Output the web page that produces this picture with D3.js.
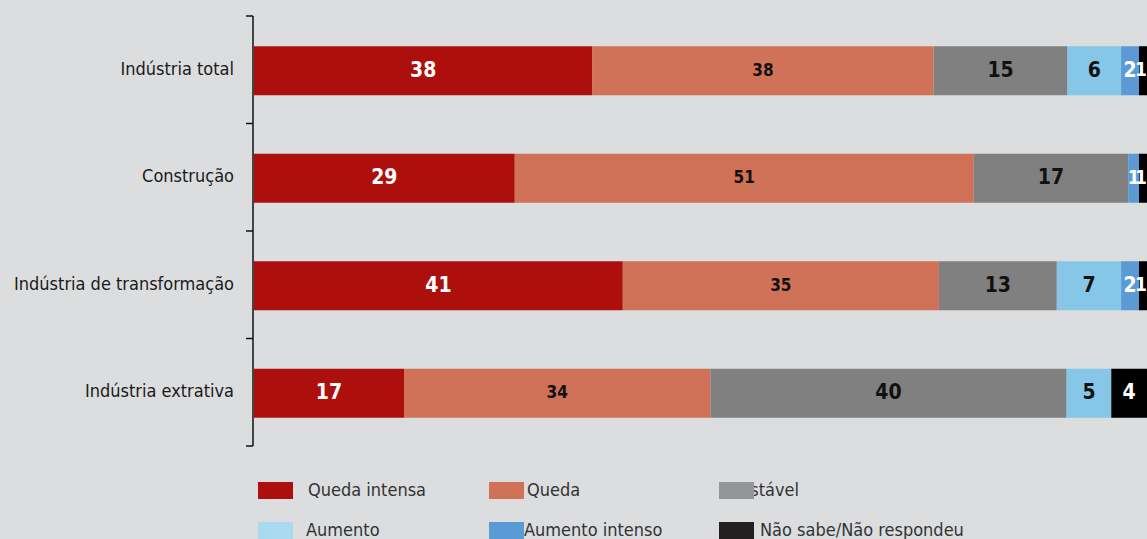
<!DOCTYPE html>
<meta charset="utf-8">
<script src="https://d3js.org/d3.v7.min.js"></script>
<style>
  body { margin: 0; background: #dcdddf; }
  svg { display: block; }
  text { font-family: "Liberation Sans Narrow", "DejaVu Sans Condensed", sans-serif; }
</style>
<body>
<div id="canvas"></div>
<script>
  // categorias e séries (percentual)
  var categories = ["Indústria total", "Construção", "Indústria de transformação", "Indústria extrativa"];
  var series = ["Queda intensa", "Queda", "Estável", "Aumento", "Aumento intenso", "Não sabe/Não respondeu"];
  var quedaIntensa = [37.9, 29.2, 41.3, 16.8];
  var queda = [38.2, 51.4, 35.4, 34.3];
  var estavel = [15.0, 17.3, 13.2, 39.9];
  var aumento = [6.0, 0, 7.2, 5.0];
  var aumentoIntenso = [2.0, 1.2, 2.0, 0];
  var naoSabe = [0.9, 0.9, 0.9, 4.0];

  var barColors = ["#ad100c", "#d07257", "#808080", "#86c7e8", "#5b9bd5", "#000000"];
  var legendColors = ["#ad100c", "#d07257", "#939598", "#a9daf0", "#5b9bd5", "#231f20"];
  var labelColors = ["#fff", "#111", "#111", "#111", "#fff", "#fff"];

  var width = 1147, height = 539;

  var svg = d3.select("#canvas").append("svg")
    .attr("width", width)
    .attr("height", height);

  var rows = categories.map(function(c, i) {
    return {cat: c, vals: [quedaIntensa[i], queda[i], estavel[i], aumento[i], aumentoIntenso[i], naoSabe[i]]};
  });

  var x = d3.scaleLinear().domain([0, 100]).range([254, 1147]);
  var y = d3.scaleBand().domain(categories).range([16, 446]).padding(0);
  var barH = 49;

  // eixo vertical com ticks nas divisões
  var axisX = 253;
  svg.append("line")
    .attr("x1", axisX).attr("x2", axisX)
    .attr("y1", y.range()[0]).attr("y2", y.range()[1])
    .attr("stroke", "#111").attr("stroke-width", 1.5);
  var bounds = categories.map(function(c) { return y(c); }).concat([y.range()[1]]);
  svg.selectAll(".tick").data(bounds).enter().append("line")
    .attr("x1", axisX - 7).attr("x2", axisX)
    .attr("y1", function(d) { return d; }).attr("y2", function(d) { return d; })
    .attr("stroke", "#111").attr("stroke-width", 1.5);

  // rótulos das categorias
  svg.selectAll(".cat").data(categories).enter().append("text")
    .attr("x", 234)
    .attr("y", function(d) { return y(d) + y.bandwidth() / 2; })
    .attr("text-anchor", "end")
    .attr("dominant-baseline", "middle")
    .style("font-size", "18px")
    .attr("fill", "#1a1a1a")
    .text(function(d) { return d; });

  // barras empilhadas
  var g = svg.selectAll(".row").data(rows).enter().append("g")
    .attr("transform", function(d) { return "translate(0," + (y(d.cat) + (y.bandwidth() - barH) / 2 + 1) + ")"; });

  var segs = g.selectAll("g.seg").data(function(d) {
    var acc = 0;
    return d.vals.map(function(v, k) {
      var s = {k: k, x0: acc, x1: acc + v, v: v};
      acc += v;
      return s;
    }).filter(function(s) { return s.v > 0; });
  }).enter().append("g").attr("class", "seg");

  segs.append("rect")
    .attr("x", function(d) { return x(d.x0); })
    .attr("width", function(d) { return x(d.x1) - x(d.x0); })
    .attr("y", 0)
    .attr("height", barH)
    .attr("fill", function(d) { return barColors[d.k]; });

  // rótulos dos valores (segmentos finos ficam colados)
  segs.append("text")
    .attr("x", function(d) {
      var cx = (x(d.x0) + x(d.x1)) / 2;
      if (d.v < 1.5) cx = Math.min(cx, width - 6);
      return cx;
    })
    .attr("y", barH / 2)
    .attr("text-anchor", "middle")
    .attr("dominant-baseline", "middle")
    .style("font-weight", "bold")
    .style("font-size", function(d) { return d.k === 1 ? "17px" : (d.v < 1.5 ? "19px" : "21px"); })
    .attr("fill", function(d) { return labelColors[d.k]; })
    .text(function(d) { return Math.round(d.v); });

  // legenda
  var legX = [258, 489, 719];
  var legTextX = [308, 527, 740];
  var legY = [482, 522];
  var leg = svg.selectAll(".leg").data(series).enter().append("g");
  leg.append("text")
    .attr("x", function(d, i) { return legTextX[i % 3] + (i === 3 ? -2 : 0) + (i === 4 ? -3 : 0) + (i === 5 ? 20 : 0); })
    .attr("y", function(d, i) { return legY[Math.floor(i / 3)] + 9; })
    .attr("dominant-baseline", "middle")
    .style("font-size", "18px")
    .style("font-weight", "300")
    .attr("fill", "#333")
    .text(function(d) { return d; });
  leg.append("rect")
    .attr("x", function(d, i) { return legX[i % 3]; })
    .attr("y", function(d, i) { return legY[Math.floor(i / 3)]; })
    .attr("width", 35)
    .attr("height", 17)
    .attr("fill", function(d, i) { return legendColors[i]; });
</script>
</body>
